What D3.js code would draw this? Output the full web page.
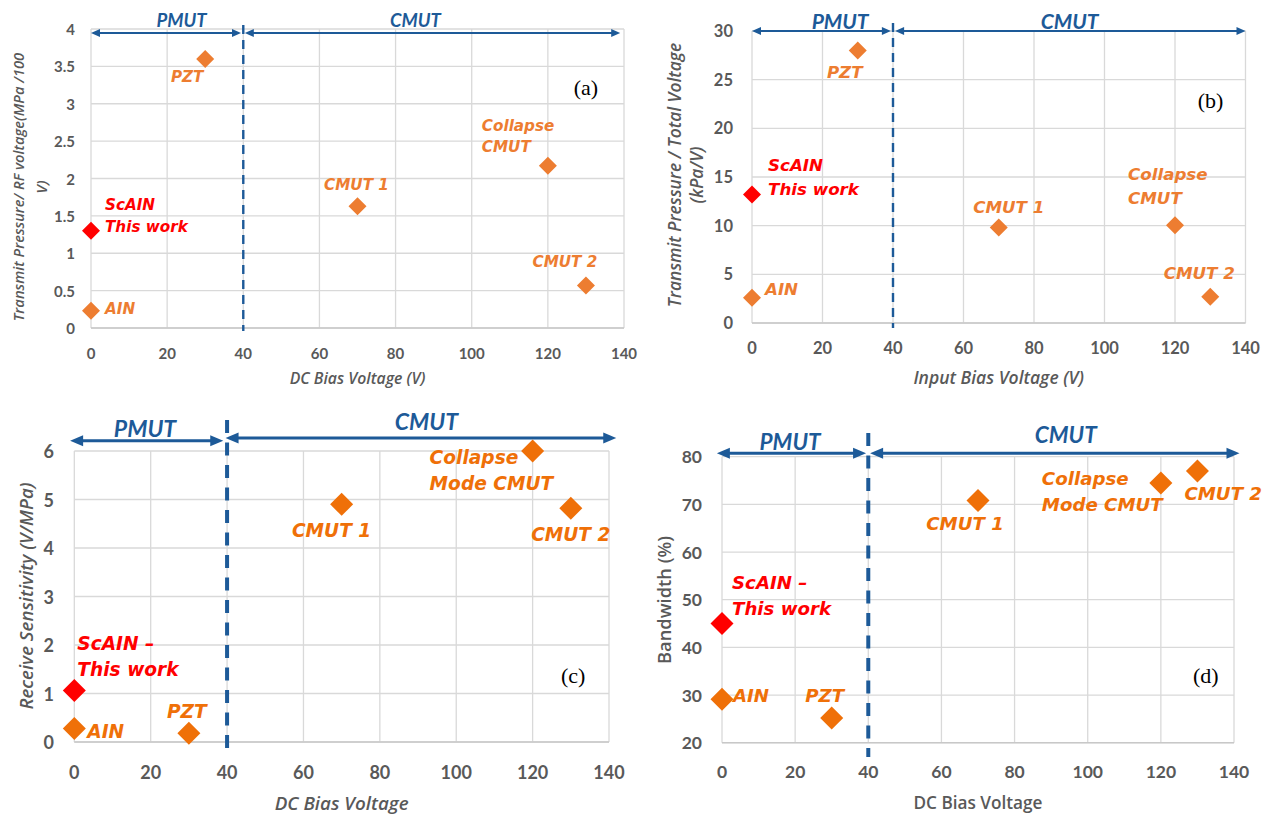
<!DOCTYPE html>
<html><head><meta charset="utf-8">
<script src="https://cdn.jsdelivr.net/npm/d3@7"></script>
<style>body{margin:0;background:#fff}svg{display:block}</style>
</head><body><svg id="c" width="1268" height="816"></svg>
<script>
// ---------- DATA ----------
const xTicks = [0, 20, 40, 60, 80, 100, 120, 140];

// (a) Transmit pressure / RF voltage
const aLabels = [["PZT"], ["Collapse", "CMUT"], ["CMUT 1"], ["ScAIN", "This work"], ["CMUT 2"], ["AIN"]];
const aX = [30, 120, 70, 0, 130, 0];
const aY = [3.6, 2.17, 1.63, 1.3, 0.57, 0.23];
const aYTicks = [0, 0.5, 1, 1.5, 2, 2.5, 3, 3.5, 4];

// (b) Transmit pressure / total voltage
const bLabels = [["PZT"], ["ScAIN", "This work"], ["Collapse", "CMUT"], ["CMUT 1"], ["CMUT 2"], ["AIN"]];
const bX = [30, 0, 120, 70, 130, 0];
const bY = [28, 13.2, 10.05, 9.8, 2.7, 2.6];
const bYTicks = [0, 5, 10, 15, 20, 25, 30];

// (c) Receive sensitivity
const cLabels = [["Collapse", "Mode CMUT"], ["CMUT 1"], ["CMUT 2"], ["ScAIN –", "This work"], ["AIN"], ["PZT"]];
const cX = [120, 70, 130, 0, 0, 30];
const cY = [6.0, 4.9, 4.82, 1.06, 0.28, 0.18];
const cYTicks = [0, 1, 2, 3, 4, 5, 6];

// (d) Bandwidth
const dLabels = [["Collapse", "Mode CMUT"], ["CMUT 2"], ["CMUT 1"], ["ScAIN –", "This work"], ["AIN"], ["PZT"]];
const dX = [120, 130, 70, 0, 0, 30];
const dY = [74.5, 77, 70.8, 45, 29.1, 25.2];
const dYTicks = [20, 30, 40, 50, 60, 70, 80];

const regionNames = ["PMUT", "CMUT"];
const panelTags = ["(a)", "(b)", "(c)", "(d)"];

// ---------- STYLE / LAYOUT ----------
const FONT = "Lato, 'Open Sans', 'Liberation Sans', sans-serif";
const FONT2 = "'Open Sans', Lato, 'Liberation Sans', sans-serif";
const FONT3 = "'DejaVu Sans', 'Open Sans', sans-serif";
const GREY = "#595959", GRID = "#d9d9d9", BLUE = "#1d5a98";

const panels = [
  { labels: aLabels, xs: aX, ys: aY, yTicks: aYTicks, tag: panelTags[0],
    xr: [91, 624], yr: [328, 29], yd: [0, 4], orange: "#ed7d31",
    tickFs: 15, yTickX: 75, xTickY: 353,
    xTitle: "DC Bias Voltage (V)", xTitleY: 378, xTitleFs: 15.8, xTitleIt: true,
    yTitle: ["Transmit Pressure/ RF voltage(MPa /100", "V)"], yTitleX: [18, 41], yTitleY: 187, yTitleFs: 14.7, yTitleIt: true,
    dash: [25, 331, 2.4, "9,6"], arrowY: 33, pm: [0, 39.4], cm: [40.4, 139], arrowW: 2, head: [9, 4],
    regX: [23.8, 85.2], regY: 20, regFs: 18.5, tagPos: [130, 3.22], tagFs: 22,
    sym: 162, annFs: 15.2, lineH: 21.7,
    offs: [[-18, 18], [-66, -40], [-1, -21], [14, -26], [-21, -23], [14, -2]],
    anch: ["middle", "start", "middle", "start", "middle", "start"] },
  { labels: bLabels, xs: bX, ys: bY, yTicks: bYTicks, tag: panelTags[1],
    xr: [752, 1245.5], yr: [323, 31], yd: [0, 30], orange: "#ed7d31",
    tickFs: 16.5, yTickX: 733, xTickY: 348.3,
    xTitle: "Input Bias Voltage (V)", xTitleY: 377, xTitleFs: 17.5, xTitleIt: true,
    yTitle: ["Transmit Pressure / Total Voltage", "(kPa/V)"], yTitleX: [674, 696], yTitleY: 175, yTitleFs: 17.4, yTitleIt: true,
    dash: [23, 328, 2.4, "9,6"], arrowY: 31, pm: [0, 39.4], cm: [40.6, 140], arrowW: 2, head: [9, 4],
    regX: [25, 90.1], regY: 20.7, regFs: 21, tagPos: [130.1, 22.9], tagFs: 22,
    sym: 162, annFs: 16.7, lineH: 24,
    offs: [[-13, 22], [16, -30], [-47, -51], [10, -21], [-11, -24], [13, -9]],
    anch: ["middle", "start", "start", "middle", "middle", "start"] },
  { labels: cLabels, xs: cX, ys: cY, yTicks: cYTicks, tag: panelTags[2],
    xr: [74.3, 609], yr: [742, 451], yd: [0, 6], orange: "#ef7008",
    tickFs: 18, yTickX: 54, xTickY: 771.7,
    xTitle: "DC Bias Voltage", xTitleY: 803.3, xTitleFs: 18.8, xTitleIt: true,
    yTitle: ["Receive Sensitivity (V/MPa)"], yTitleX: [25], yTitleY: 596, yTitleFs: 18.7, yTitleIt: true,
    dash: [420, 750, 4, "13,9.5"], arrowY: [440.7, 438], pm: [-1.1, 39], cm: [39.6, 141.9], arrowW: 3, head: [13, 5.5],
    regX: [18.5, 92.2], regY: [428, 420.7], regFs: 23, tagPos: [130.6, 1.38], tagFs: 22,
    sym: 265, annFs: 18.6, lineH: 26,
    offs: [[-103, 6], [-10, 26], [0, 26], [3, -47], [13, 3], [-2, -22]],
    anch: ["start", "middle", "middle", "start", "start", "middle"] },
  { labels: dLabels, xs: dX, ys: dY, yTicks: dYTicks, tag: panelTags[3],
    xr: [722, 1234], yr: [742.7, 456.7], yd: [20, 80], orange: "#ef7008",
    tickFs: 17.5, yTickX: 702, xTickY: 771,
    xTitle: "DC Bias Voltage", xTitleY: 802.3, xTitleFs: 17.2, xTitleIt: false,
    yTitle: ["Bandwidth (%)"], yTitleX: [663], yTitleY: 600, yTitleFs: 18.3, yTitleIt: false,
    dash: [433, 757, 4, "13,9.5"], arrowY: [453.3, 453.3], pm: [-1.4, 39.4], cm: [40.5, 141.5], arrowW: 3, head: [13, 5.5],
    regX: [18.6, 94], regY: [441.7, 434.3], regFs: 22.5, tagPos: [132.3, 34.2], tagFs: 22,
    sym: 265, annFs: 18.2, lineH: 25.6,
    offs: [[-119, -4], [-13, 22], [-13, 23], [10, -41], [11, -4], [-7, -22]],
    anch: ["start", "start", "middle", "start", "start", "middle"] }
];

const svg = d3.select("#c");
svg.append("rect").attr("width", 1268).attr("height", 816).attr("fill", "#fff");

panels.forEach(p => {
  const g = svg.append("g");
  const x = d3.scaleLinear().domain([0, 140]).range(p.xr);
  const y = d3.scaleLinear().domain(p.yd).range(p.yr);

  // grid
  g.append("g").selectAll("line").data(xTicks).join("line")
    .attr("x1", d => x(d)).attr("x2", d => x(d)).attr("y1", p.yr[0]).attr("y2", p.yr[1])
    .attr("stroke", GRID).attr("stroke-width", 1.3);
  g.append("g").selectAll("line").data(p.yTicks).join("line")
    .attr("x1", p.xr[0]).attr("x2", p.xr[1]).attr("y1", d => y(d)).attr("y2", d => y(d))
    .attr("stroke", GRID).attr("stroke-width", 1.3);
  g.append("line").attr("x1", p.xr[0]).attr("x2", p.xr[1]).attr("y1", p.yr[0]).attr("y2", p.yr[0])
    .attr("stroke", "#c8c8c8").attr("stroke-width", 1.5);

  // tick labels
  g.append("g").selectAll("text").data(xTicks).join("text")
    .attr("x", d => x(d)).attr("y", p.xTickY).attr("text-anchor", "middle").attr("dominant-baseline", "central")
    .attr("font-family", FONT).attr("font-weight", 700).attr("font-size", p.tickFs).attr("fill", GREY)
    .text(d => d);
  g.append("g").selectAll("text").data(p.yTicks).join("text")
    .attr("x", p.yTickX).attr("y", d => y(d)).attr("text-anchor", "end").attr("dominant-baseline", "central")
    .attr("font-family", FONT).attr("font-weight", 700).attr("font-size", p.tickFs).attr("fill", GREY)
    .text(d => d);

  // axis titles
  g.append("text").attr("x", (p.xr[0] + p.xr[1]) / 2).attr("y", p.xTitleY)
    .attr("text-anchor", "middle").attr("dominant-baseline", "central")
    .attr("font-family", FONT2).attr("font-size", p.xTitleFs).attr("fill", GREY).attr("font-weight", 600)
    .attr("font-style", p.xTitleIt ? "italic" : "normal")
    .text(p.xTitle);
  p.yTitle.forEach((t, i) => {
    g.append("text").attr("transform", `translate(${p.yTitleX[i]},${p.yTitleY}) rotate(-90)`)
      .attr("text-anchor", "middle").attr("dominant-baseline", "central")
      .attr("font-family", FONT2).attr("font-size", p.yTitleFs).attr("fill", GREY)
      .attr("font-weight", 600)
      .attr("font-style", p.yTitleIt ? "italic" : "normal")
      .text(t);
  });

  // dashed divider at 40 V
  g.append("line").attr("x1", x(40)).attr("x2", x(40)).attr("y1", p.dash[0]).attr("y2", p.dash[1])
    .attr("stroke", BLUE).attr("stroke-width", p.dash[2]).attr("stroke-dasharray", p.dash[3]);

  // region arrows
  const ay = Array.isArray(p.arrowY) ? p.arrowY : [p.arrowY, p.arrowY];
  [p.pm, p.cm].forEach((r, i) => {
    const x1 = x(r[0]), x2 = x(r[1]), yy = ay[i], L = p.head[0], H = p.head[1];
    g.append("line").attr("x1", x1 + L - 1).attr("x2", x2 - L + 1).attr("y1", yy).attr("y2", yy)
      .attr("stroke", BLUE).attr("stroke-width", p.arrowW);
    g.append("path").attr("d", `M${x1},${yy}L${x1 + L},${yy - H}L${x1 + L},${yy + H}Z`).attr("fill", BLUE);
    g.append("path").attr("d", `M${x2},${yy}L${x2 - L},${yy - H}L${x2 - L},${yy + H}Z`).attr("fill", BLUE);
  });
  const ry = Array.isArray(p.regY) ? p.regY : [p.regY, p.regY];
  regionNames.forEach((n, i) => {
    g.append("text").attr("x", x(p.regX[i])).attr("y", ry[i])
      .attr("text-anchor", "middle").attr("dominant-baseline", "central")
      .attr("font-family", FONT).attr("font-weight", 700).attr("font-style", "italic")
      .attr("font-size", p.regFs).attr("fill", BLUE).text(n);
  });

  // panel tag
  g.append("text").attr("x", x(p.tagPos[0])).attr("y", y(p.tagPos[1]))
    .attr("text-anchor", "middle").attr("dominant-baseline", "central")
    .attr("font-family", "'Liberation Serif', 'DejaVu Serif', serif").attr("font-size", p.tagFs)
    .attr("fill", "#000").text(p.tag);

  // points
  const pts = p.xs.map((v, i) => ({ x: v, y: p.ys[i], lab: p.labels[i], i }));
  const sym = d3.symbol().type(d3.symbolSquare).size(p.sym);
  const isRed = d => d.lab[0].startsWith("ScAIN");
  g.append("g").selectAll("path").data(pts).join("path")
    .attr("d", sym)
    .attr("transform", d => `translate(${x(d.x)},${y(d.y)}) rotate(45)`)
    .attr("fill", d => isRed(d) ? "#ff0000" : p.orange);

  // annotations (one text element per line)
  pts.forEach(d => {
    d.lab.forEach((line, k) => {
      g.append("text")
        .attr("x", x(d.x) + p.offs[d.i][0])
        .attr("y", y(d.y) + p.offs[d.i][1] + k * p.lineH)
        .attr("font-family", FONT3).attr("font-weight", 700).attr("font-style", "italic")
        .attr("font-size", p.annFs).attr("fill", isRed(d) ? "#ff0000" : p.orange)
        .attr("text-anchor", p.anch[d.i]).attr("dominant-baseline", "central")
        .text(line);
    });
  });
});
</script></body></html>
